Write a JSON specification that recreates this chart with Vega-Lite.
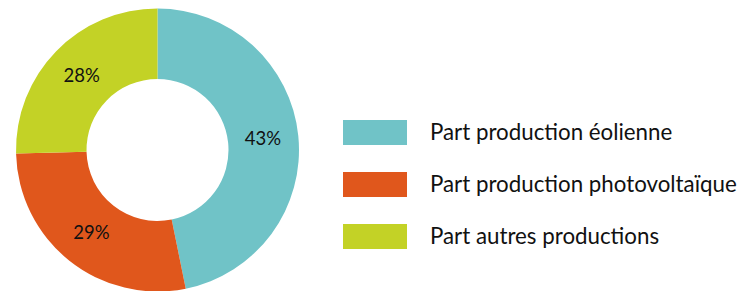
{
  "$schema": "https://vega.github.io/schema/vega-lite/v6.json",
  "width": 315,
  "height": 282,
  "autosize": {"type": "none"},
  "padding": {"left": 0, "top": 9, "right": 430, "bottom": 0},
  "background": "white",
  "view": {"stroke": null},
  "data": {
    "values": [
      {"categorie": "Part production éolienne", "part": 46.8, "label": "43%"},
      {"categorie": "Part production photovoltaïque", "part": 27.8, "label": "29%"},
      {"categorie": "Part autres productions", "part": 25.4, "label": "28%"}
    ]
  },
  "encoding": {
    "theta": {"field": "part", "type": "quantitative", "stack": true},
    "order": {"field": "part", "type": "quantitative", "sort": "descending"},
    "color": {
      "field": "categorie",
      "type": "nominal",
      "sort": ["Part production éolienne", "Part production photovoltaïque", "Part autres productions"],
      "scale": {
        "domain": ["Part production éolienne", "Part production photovoltaïque", "Part autres productions"],
        "range": ["#70C3C7", "#E0571C", "#C3D226"]
      },
      "legend": {
        "orient": "none",
        "legendX": 362.5,
        "legendY": 111,
        "title": null,
        "padding": 0,
        "symbolType": "M-2.56,-1L2.56,-1L2.56,1L-2.56,1Z",
        "symbolSize": 625,
        "symbolStrokeWidth": 0,
        "symbolOpacity": 1,
        "rowPadding": 27,
        "labelOffset": 42.5,
        "labelFont": "Lato",
        "labelFontSize": 22.3,
        "labelColor": "#111111",
        "labelLimit": 400,
        "encode": {
          "symbols": {
            "enter": {
              "fill": {"signal": "datum.value === 'Part production éolienne' ? '#5BC5CF' : datum.value === 'Part production photovoltaïque' ? '#E55A25' : '#BBD645'"}
            },
            "update": {
              "fill": {"signal": "datum.value === 'Part production éolienne' ? '#5BC5CF' : datum.value === 'Part production photovoltaïque' ? '#E55A25' : '#BBD645'"}
            }
          }
        }
      }
    }
  },
  "layer": [
    {
      "mark": {"type": "arc", "outerRadius": 141.5, "innerRadius": 71}
    },
    {
      "mark": {"type": "text", "radius": 106, "font": "Lato", "fontSize": 18.5, "color": "#111111"},
      "encoding": {
        "text": {"field": "label", "type": "nominal"},
        "color": {"value": "#111111"}
      }
    }
  ]
}
